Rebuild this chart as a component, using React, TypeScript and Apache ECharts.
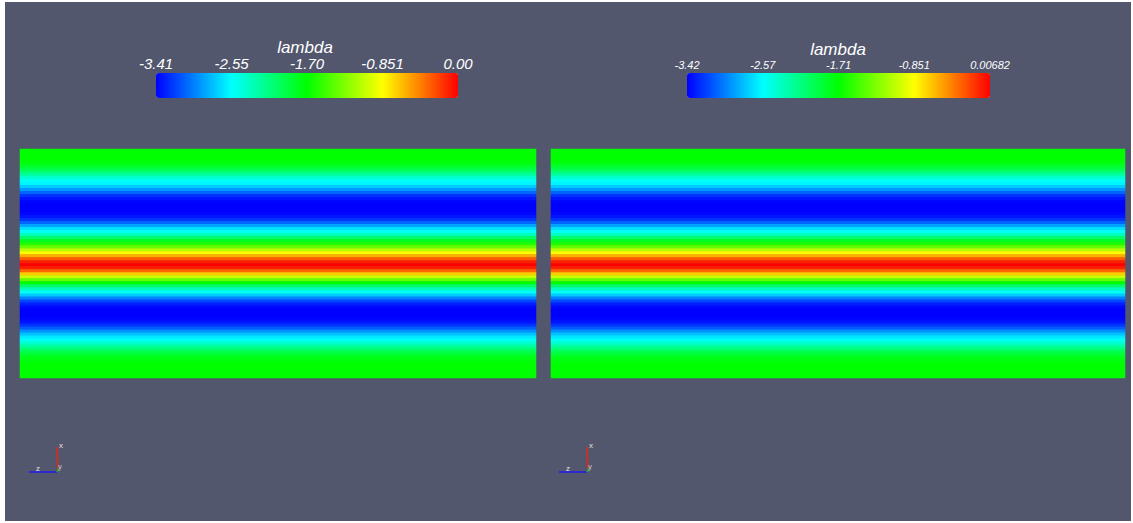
import React, { useEffect, useRef } from "react";
import * as echarts from "echarts";

// lambda profile across the domain height (top row first), left and right views
const LEFT_VALUES = [
  -1.7, -1.7, -1.7, -1.7, -1.74, -1.81, -1.91, -2.05, -2.22, -2.39,
  -2.52, -2.59, -2.73, -2.9, -3.07, -3.24, -3.34, -3.39, -3.41, -3.41,
  -3.41, -3.39, -3.34, -3.24, -3.07, -2.86, -2.66, -2.52, -2.32, -2.05,
  -1.81, -1.6, -1.36, -1.09, -0.85, -0.58, -0.31, -0.1, 0.0, -0.1,
  -0.34, -0.68, -1.02, -1.36, -1.7, -2.05, -2.32, -2.52, -2.73, -2.97,
  -3.17, -3.31, -3.38, -3.41, -3.41, -3.41, -3.39, -3.34, -3.24, -3.1,
  -2.93, -2.76, -2.63, -2.52, -2.39, -2.25, -2.08, -1.94, -1.84, -1.77,
  -1.74, -1.7, -1.7, -1.7, -1.7, -1.7,
];
const RIGHT_VALUES = [
  -1.71, -1.71, -1.71, -1.71, -1.75, -1.82, -1.92, -2.06, -2.23, -2.4,
  -2.53, -2.6, -2.74, -2.91, -3.08, -3.25, -3.35, -3.4, -3.42, -3.42,
  -3.42, -3.4, -3.35, -3.25, -3.08, -2.87, -2.67, -2.53, -2.33, -2.06,
  -1.82, -1.61, -1.37, -1.09, -0.85, -0.58, -0.31, -0.1, 0.0068, -0.1,
  -0.34, -0.68, -1.02, -1.37, -1.71, -2.06, -2.33, -2.53, -2.74, -2.98,
  -3.18, -3.32, -3.39, -3.42, -3.42, -3.42, -3.4, -3.35, -3.25, -3.11,
  -2.94, -2.77, -2.64, -2.53, -2.4, -2.26, -2.09, -1.95, -1.85, -1.78,
  -1.75, -1.71, -1.71, -1.71, -1.71, -1.71,
];

const LEFT_MIN = -3.41;
const LEFT_MAX = 0.0;
const RIGHT_MIN = -3.42;
const RIGHT_MAX = 0.00682;

const LEFT_TICK_VALUES = [-3.41, -2.5575, -1.705, -0.8525, 0.0];
const LEFT_TICK_LABELS = ["-3.41", "-2.55", "-1.70", "-0.851", "0.00"];
const RIGHT_TICK_VALUES = [-3.42, -2.5633, -1.7066, -0.8499, 0.00682];
const RIGHT_TICK_LABELS = ["-3.42", "-2.57", "-1.71", "-0.851", "0.00682"];

const SCALAR_NAME = "lambda";
const RAINBOW = ["#0000ff", "#00ffff", "#00ff00", "#ffff00", "#ff0000"];

const BG = "#52576e";
const FONT = "'Liberation Sans', Arial, sans-serif";

function nearestLabel(values: number[], labels: string[], v: number) {
  let best = 0;
  for (let i = 1; i < values.length; i++) {
    if (Math.abs(values[i] - v) < Math.abs(values[best] - v)) best = i;
  }
  return labels[best];
}

function triad(dx: number) {
  return [
    { type: "line", shape: { x1: 57 + dx, y1: 447, x2: 58 + dx, y2: 471 }, style: { stroke: "#c8302e", lineWidth: 2 }, z: 10 },
    { type: "line", shape: { x1: 29 + dx, y1: 472, x2: 57 + dx, y2: 472 }, style: { stroke: "#2a2ad0", lineWidth: 2 }, z: 10 },
    { type: "line", shape: { x1: 57 + dx, y1: 472, x2: 59 + dx, y2: 468 }, style: { stroke: "#3a9a3a", lineWidth: 2 }, z: 10 },
    { type: "text", x: 61 + dx, y: 445, style: { text: "x", fill: "#e0e0e0", font: `8px ${FONT}`, align: "center", verticalAlign: "middle" }, z: 11 },
    { type: "text", x: 38 + dx, y: 468, style: { text: "z", fill: "#e0e0e0", font: `8px ${FONT}`, align: "center", verticalAlign: "middle" }, z: 11 },
    { type: "text", x: 60 + dx, y: 466, style: { text: "y", fill: "#d0d0d0", font: `7px ${FONT}`, align: "center", verticalAlign: "middle" }, z: 11 },
  ];
}

export default function App() {
  const ref = useRef<HTMLDivElement>(null);

  useEffect(() => {
    if (!ref.current) return;
    const chart = echarts.init(ref.current, undefined, { renderer: "svg" });
    const rowIds = LEFT_VALUES.map((_, i) => String(i));
    const leftData = LEFT_VALUES.map((v, i) => [0, i, v]);
    const rightData = RIGHT_VALUES.map((v, i) => [0, i, v]);

    const labelStyle = (size: number) => ({
      color: "#ffffff",
      fontStyle: "italic",
      fontFamily: FONT,
      fontSize: size,
      textShadowColor: "rgba(0,0,0,0.9)",
      textShadowOffsetX: 1,
      textShadowOffsetY: 1,
      textShadowBlur: 0,
    });

    chart.setOption({
      animation: false,
      backgroundColor: "#ffffff",
      tooltip: { show: false },
      grid: [
        { left: 20, top: 149, width: 516, height: 229, show: false },
        { left: 551, top: 149, width: 574, height: 229, show: false },
        { left: 156, top: 73, width: 302, height: 25, show: false },
        { left: 687, top: 73, width: 303, height: 25, show: false },
      ],
      xAxis: [
        { gridIndex: 0, type: "category", data: ["0"], show: false },
        { gridIndex: 1, type: "category", data: ["0"], show: false },
        {
          gridIndex: 2, type: "value", min: LEFT_MIN, max: LEFT_MAX, position: "top",
          axisLine: { show: false }, axisTick: { show: false }, splitLine: { show: false },
          axisLabel: {
            customValues: LEFT_TICK_VALUES,
            formatter: (v: number) => nearestLabel(LEFT_TICK_VALUES, LEFT_TICK_LABELS, v),
            margin: 2,
            ...labelStyle(15),
          },
        },
        {
          gridIndex: 3, type: "value", min: RIGHT_MIN, max: RIGHT_MAX, position: "top",
          axisLine: { show: false }, axisTick: { show: false }, splitLine: { show: false },
          axisLabel: {
            customValues: RIGHT_TICK_VALUES,
            formatter: (v: number) => nearestLabel(RIGHT_TICK_VALUES, RIGHT_TICK_LABELS, v),
            margin: 3,
            ...labelStyle(11),
          },
        },
      ],
      yAxis: [
        { gridIndex: 0, type: "category", data: rowIds, inverse: true, show: false },
        { gridIndex: 1, type: "category", data: rowIds, inverse: true, show: false },
        { gridIndex: 2, type: "value", show: false, min: 0, max: 1 },
        { gridIndex: 3, type: "value", show: false, min: 0, max: 1 },
      ],
      visualMap: [
        {
          type: "continuous", seriesIndex: 0, min: LEFT_MIN, max: LEFT_MAX,
          orient: "horizontal", left: 156, top: 73, itemWidth: 25, itemHeight: 302,
          padding: 0, calculable: false, hoverLink: false, text: null,
          inRange: { color: RAINBOW },
        },
        {
          type: "continuous", seriesIndex: 1, min: RIGHT_MIN, max: RIGHT_MAX,
          orient: "horizontal", left: 687, top: 73, itemWidth: 25, itemHeight: 303,
          padding: 0, calculable: false, hoverLink: false, text: null,
          inRange: { color: RAINBOW },
        },
      ],
      series: [
        {
          type: "heatmap", xAxisIndex: 0, yAxisIndex: 0, data: leftData,
          itemStyle: { borderWidth: 0 }, emphasis: { disabled: true }, silent: true,
        },
        {
          type: "heatmap", xAxisIndex: 1, yAxisIndex: 1, data: rightData,
          itemStyle: { borderWidth: 0 }, emphasis: { disabled: true }, silent: true,
        },
      ],
      graphic: [
        { type: "rect", z: -10, silent: true, shape: { x: 5, y: 2, width: 1126, height: 519 }, style: { fill: BG } },
        { type: "text", x: 305, y: 47, style: { text: SCALAR_NAME, fill: "#ffffff", font: `italic 17px ${FONT}`, align: "center", verticalAlign: "middle", shadowColor: "rgba(0,0,0,0.9)", shadowOffsetX: 1, shadowOffsetY: 1 } },
        { type: "text", x: 838, y: 49, style: { text: SCALAR_NAME, fill: "#ffffff", font: `italic 17px ${FONT}`, align: "center", verticalAlign: "middle", shadowColor: "rgba(0,0,0,0.9)", shadowOffsetX: 1, shadowOffsetY: 1 } },
        ...triad(0),
        ...triad(530),
      ],
    });
    return () => chart.dispose();
  }, []);

  return (
    <div style={{ position: "fixed", left: 0, top: 0, width: 1133, height: 523 }}>
      <div ref={ref} style={{ width: 1133, height: 523 }} />
    </div>
  );
}
